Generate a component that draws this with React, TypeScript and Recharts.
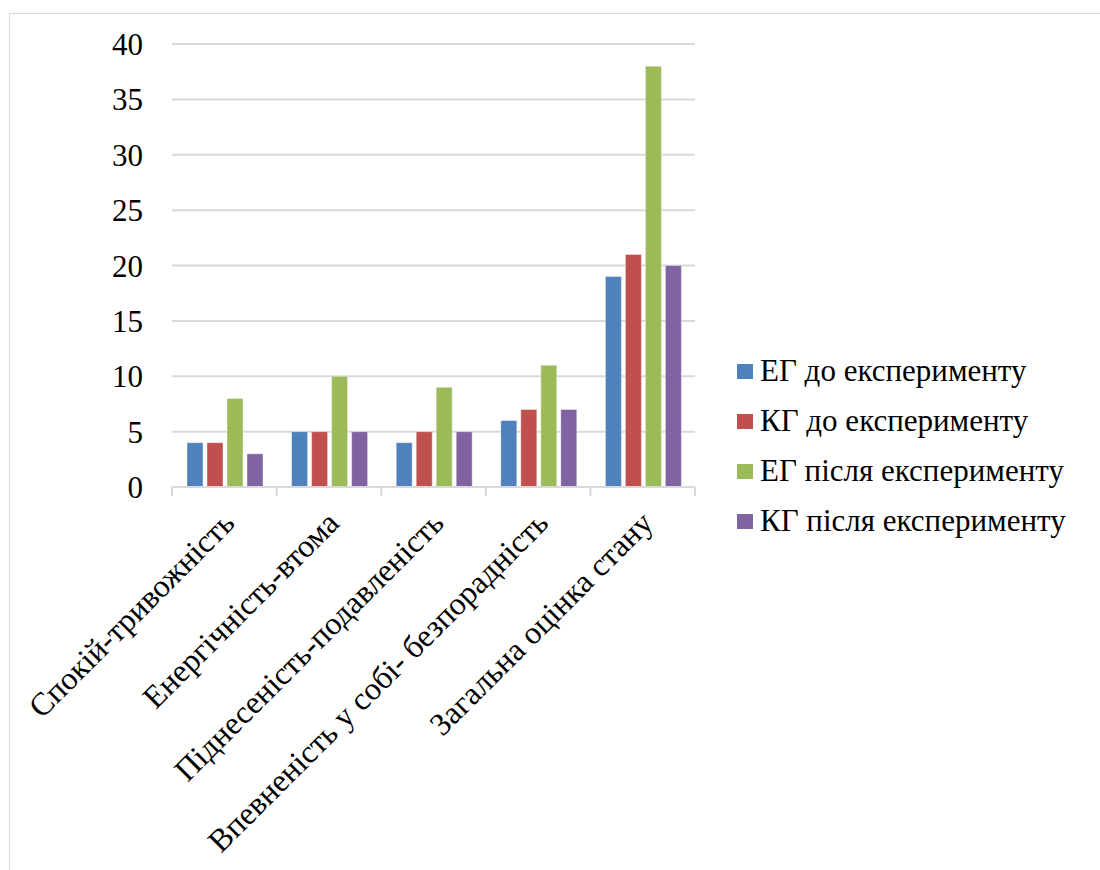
import { BarChart, Bar, XAxis, YAxis, CartesianGrid } from 'recharts';

const categories = [
    'Спокій-тривожність',
    'Енергічність-втома',
    'Піднесеність-подавленість',
    'Впевненість у собі- безпорадність',
    'Загальна оцінка стану',
];

const egBefore  = [4, 5, 4, 6, 19];
const kgBefore  = [4, 5, 5, 7, 21];
const egAfter   = [8, 10, 9, 11, 38];
const kgAfter   = [3, 5, 5, 7, 20];
const yTicks    = [0, 5, 10, 15, 20, 25, 30, 35, 40];

const SERIES = [
    { key: 'egBefore', name: 'ЕГ до експерименту',    color: '#4f81bd' },
    { key: 'kgBefore', name: 'КГ до експерименту',    color: '#c0504d' },
    { key: 'egAfter',  name: 'ЕГ після експерименту', color: '#9bbb59' },
    { key: 'kgAfter',  name: 'КГ після експерименту', color: '#8064a2' },
];

const FONT = '"Liberation Serif", "Times New Roman", serif';
const FS = 31;
const W = 1100;
const H = 870;
const MARGIN = { top: 44, right: 405, bottom: 0, left: 0 };
const Y_W = 172;
const X_H = 383;
const BAND = (W - MARGIN.right - Y_W) / categories.length;

const data = categories.map((name, i) => ({
    name,
    egBefore: egBefore[i],
    kgBefore: kgBefore[i],
    egAfter:  egAfter[i],
    kgAfter:  kgAfter[i],
}));

// category label rotated 45° plus tick marks on band boundaries (Excel style)
function CategoryTick(props: any) {
    const { x, y, payload, index } = props;
    const top = y - 8;
    const last = index === categories.length - 1;
    return (
        <g>
            <line x1={x - BAND / 2} y1={top} x2={x - BAND / 2} y2={top + 9} stroke="#d9d9d9" strokeWidth={2} />
            {last && (
                <line x1={x + BAND / 2} y1={top} x2={x + BAND / 2} y2={top + 9} stroke="#d9d9d9" strokeWidth={2} />
            )}
            <text
                transform={`translate(${x + 12},${top + 38}) rotate(-45)`}
                textAnchor="end"
                style={{ fontFamily: FONT, fontSize: 32 }}
                fill="#000"
            >
                {payload.value}
            </text>
        </g>
    );
}

function LegendBox() {
    return (
        <div style={{ position: 'absolute', left: 737, top: 346, fontFamily: FONT, fontSize: FS, color: '#000' }}>
            {SERIES.map((s) => (
                <div key={s.key} style={{ display: 'flex', alignItems: 'center', height: 50, whiteSpace: 'nowrap' }}>
                    <span style={{ width: 16, height: 15, background: s.color, marginRight: 7, flex: 'none' }} />
                    <span>{s.name}</span>
                </div>
            ))}
        </div>
    );
}

export default function App() {
    return (
        <div style={{ position: 'absolute', left: 0, top: 0, width: W, height: H, background: '#fff', overflow: 'hidden' }}>
            <div
                style={{
                    position: 'absolute', left: 9, top: 13, width: W, height: H,
                    borderTop: '1px solid #d9d9d9', borderLeft: '1px solid #d9d9d9',
                }}
            />
            <div style={{ position: 'absolute', left: 0, top: 0, fontFamily: FONT }}>
                <BarChart
                    width={W}
                    height={H}
                    data={data}
                    margin={MARGIN}
                    barCategoryGap={15}
                    barGap={4}
                >
                    <CartesianGrid vertical={false} stroke="#d9d9d9" strokeWidth={2} />
                    <XAxis
                        dataKey="name"
                        height={X_H}
                        interval={0}
                        tickLine={false}
                        axisLine={{ stroke: '#d9d9d9', strokeWidth: 2 }}
                        tick={<CategoryTick />}
                    />
                    <YAxis
                        width={Y_W}
                        domain={[0, 40]}
                        ticks={yTicks}
                        interval={0}
                        axisLine={false}
                        tickLine={false}
                        tickSize={0}
                        tickMargin={29}
                        tick={{ fontSize: FS, fill: '#000', style: { fontFamily: FONT } }}
                    />
                    {SERIES.map((s) => (
                        <Bar
                            key={s.key}
                            dataKey={s.key}
                            name={s.name}
                            fill={s.color}
                            stroke="#ffffff"
                            strokeOpacity={0.4}
                            strokeWidth={1}
                            isAnimationActive={false}
                        />
                    ))}
                </BarChart>
            </div>
            <LegendBox />
        </div>
    );
}
